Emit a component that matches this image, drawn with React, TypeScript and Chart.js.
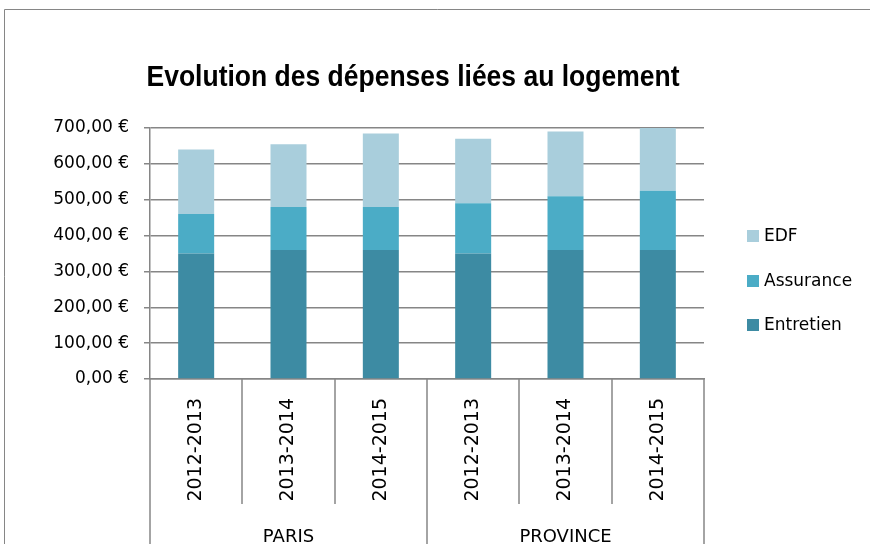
import React, { useEffect, useRef } from "react";
import { Chart, registerables } from "chart.js";

Chart.register(...registerables);

const title = "Evolution des dépenses liées au logement";
const categories = ["2012-2013", "2013-2014", "2014-2015", "2012-2013", "2013-2014", "2014-2015"];
const groups = ["PARIS", "PROVINCE"];
const groupSizes = [3, 3];
const seriesNames = ["Entretien", "Assurance", "EDF"];
const entretien = [350, 360, 360, 350, 360, 360];
const assurance = [110, 120, 120, 140, 150, 165];
const edf = [180, 175, 205, 180, 180, 175];
const yTicks = [0, 100, 200, 300, 400, 500, 600, 700];
const colors = ["#3d8ba3", "#4bacc6", "#a9cedc"];

const GRID = "#868686";

const decorPlugin = {
  id: "decor",
  beforeDraw(chart: any) {
    const ctx = chart.ctx;
    ctx.save();
    ctx.fillStyle = "#ffffff";
    ctx.fillRect(0, 0, chart.width, chart.height);
    ctx.strokeStyle = GRID;
    ctx.lineWidth = 1;
    ctx.beginPath();
    ctx.moveTo(4.5, chart.height);
    ctx.lineTo(4.5, 9.5);
    ctx.lineTo(chart.width, 9.5);
    ctx.stroke();

    // title, condensed to match
    ctx.font = "bold 30px 'Liberation Sans', Arial, sans-serif";
    ctx.fillStyle = "#000";
    ctx.textBaseline = "alphabetic";
    ctx.textAlign = "center";
    const w = ctx.measureText(title).width;
    ctx.translate(413, 86);
    ctx.scale(533 / w, 1);
    ctx.fillText(title, 0, 0);
    ctx.restore();
  },
  afterDraw(chart: any) {
    const ctx = chart.ctx;
    const xs = chart.scales.x;
    const area = chart.chartArea;
    const n = categories.length;
    const bounds: number[] = [];
    for (let i = 0; i <= n; i++) {
      if (i === 0) bounds.push(area.left);
      else if (i === n) bounds.push(area.right);
      else bounds.push((xs.getPixelForValue(i - 1) + xs.getPixelForValue(i)) / 2);
    }
    const groupBounds = new Set<number>();
    let acc = 0;
    groupBounds.add(0);
    groupSizes.forEach((s) => {
      acc += s;
      groupBounds.add(acc);
    });
    ctx.save();
    ctx.strokeStyle = GRID;
    ctx.lineWidth = 1.5;
    bounds.forEach((b, i) => {
      const x = Math.round(b);
      ctx.beginPath();
      ctx.moveTo(x, area.bottom);
      ctx.lineTo(x, groupBounds.has(i) ? chart.height : 504);
      ctx.stroke();
    });
    // group labels
    ctx.font = "18px 'DejaVu Sans', sans-serif";
    ctx.fillStyle = "#000";
    ctx.textAlign = "center";
    ctx.textBaseline = "alphabetic";
    let start = 0;
    groups.forEach((g, gi) => {
      const end = start + groupSizes[gi];
      const cx = (bounds[start] + bounds[end]) / 2;
      ctx.fillText(g, cx, 542);
      start = end;
    });

    // legend (reverse order, like the reference)
    const ds = chart.data.datasets;
    const legendY = [236, 281, 325];
    ctx.font = "17px 'DejaVu Sans', sans-serif";
    ctx.textAlign = "left";
    ctx.textBaseline = "middle";
    for (let k = 0; k < ds.length; k++) {
      const d = ds[ds.length - 1 - k];
      const y = legendY[k];
      ctx.fillStyle = d.backgroundColor;
      ctx.fillRect(747, y - 6, 12, 12);
      ctx.fillStyle = "#000";
      ctx.fillText(d.label, 764, y + 1);
    }
    ctx.restore();
  },
};

export default function App() {
  const ref = useRef<HTMLCanvasElement>(null);
  useEffect(() => {
    if (!ref.current) return;
    const values = [entretien, assurance, edf];
    const chart = new Chart(ref.current, {
      type: "bar",
      data: {
        labels: categories,
        datasets: seriesNames.map((name, i) => ({
          label: name,
          data: values[i],
          backgroundColor: colors[i],
          borderWidth: 0,
          categoryPercentage: 1,
          barPercentage: 0.39,
        })),
      },
      plugins: [decorPlugin],
      options: {
        animation: false,
        responsive: false,
        devicePixelRatio: 1,
        layout: { padding: { top: 128, right: 166, left: 0, bottom: 0 } },
        plugins: {
          legend: { display: false },
          title: { display: false },
          tooltip: { enabled: false },
        },
        scales: {
          x: {
            stacked: true,
            grid: { display: false },
            border: { display: true, color: GRID, width: 1.5 },
            ticks: {
              minRotation: 90,
              maxRotation: 90,
              autoSkip: false,
              padding: 11,
              color: "#000",
              font: { family: "'DejaVu Sans', sans-serif", size: 19 },
            },
            afterFit(scale: any) {
              scale.height = 165;
            },
          },
          y: {
            stacked: true,
            min: 0,
            max: 700,
            afterBuildTicks(scale: any) {
              scale.ticks = yTicks.map((v) => ({ value: v }));
            },
            grid: { color: GRID, lineWidth: 1.5, tickLength: 6, drawTicks: true },
            border: { display: true, color: GRID, width: 1.5 },
            ticks: {
              padding: 15,
              color: "#000",
              font: { family: "'DejaVu Sans', sans-serif", size: 17 },
              callback: (v: any) => Number(v).toFixed(2).replace(".", ",") + " €",
            },
            afterFit(scale: any) {
              scale.width = 150;
            },
          },
        },
      },
    });
    return () => chart.destroy();
  }, []);
  return (
    <div style={{ position: "fixed", left: 0, top: 0, width: 870, height: 544, background: "#fff" }}>
      <canvas ref={ref} width={870} height={544} style={{ display: "block" }} />
    </div>
  );
}
